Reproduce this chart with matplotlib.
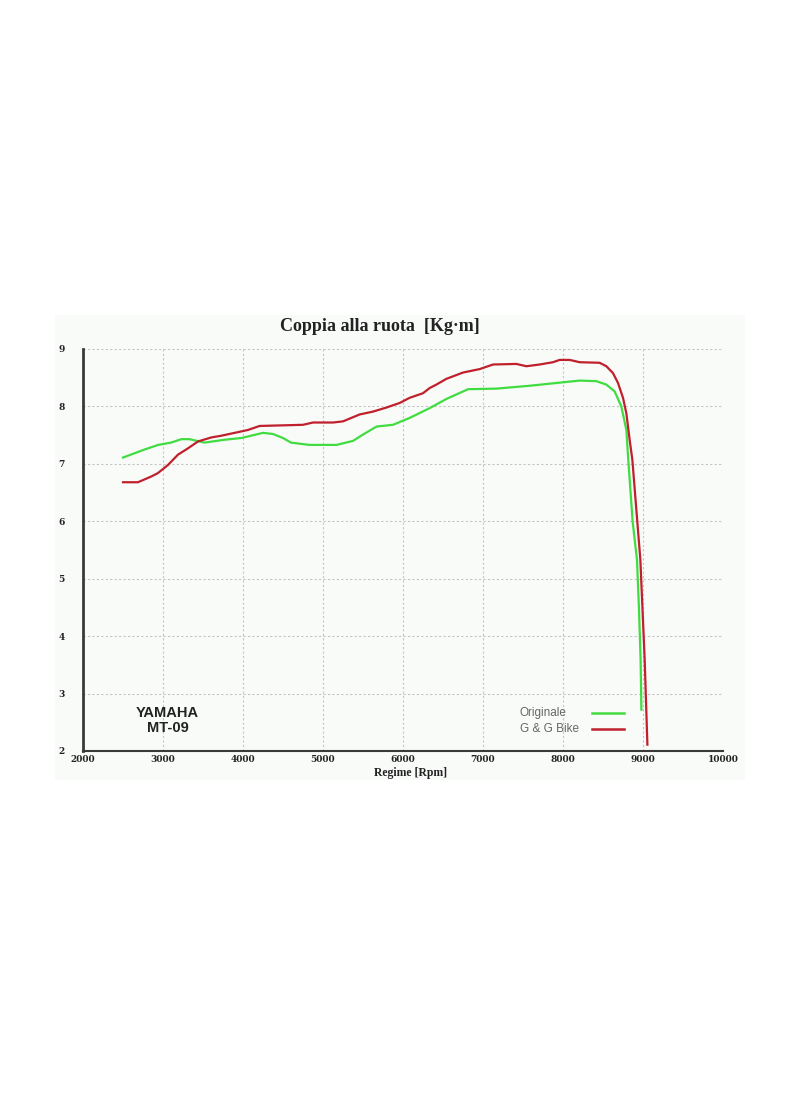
import matplotlib
matplotlib.use("Agg")
import matplotlib.pyplot as plt
from matplotlib.lines import Line2D

# ---- data ----
title = "Coppia alla ruota  [Kg·m]"
xlabel = "Regime [Rpm]"
series_names = ["Originale", "G & G Bike"]
x_ticks = [2000, 3000, 4000, 5000, 6000, 7000, 8000, 9000, 10000]
y_ticks = [2, 3, 4, 5, 6, 7, 8, 9]

rpm_orig = [2500, 2770, 2940, 3100, 3230, 3330, 3520, 3770, 3980, 4250, 4375, 4500,
            4600, 4830, 5170, 5375, 5500, 5670, 5875, 6083, 6333, 6542, 6813, 7167,
            7583, 7792, 8000, 8208, 8417, 8542, 8646, 8729, 8792, 8816, 8870, 8925,
            8950, 8970, 8980]
torque_orig = [7.11, 7.25, 7.33, 7.37, 7.43, 7.43, 7.37, 7.42, 7.45, 7.54, 7.52, 7.45,
               7.37, 7.33, 7.33, 7.40, 7.51, 7.65, 7.68, 7.80, 7.97, 8.13, 8.30, 8.31,
               8.36, 8.39, 8.42, 8.45, 8.44, 8.38, 8.26, 8.00, 7.59, 7.07, 6.00, 5.33,
               4.46, 3.59, 2.72]

rpm_gg = [2500, 2687, 2854, 2937, 3062, 3187, 3312, 3437, 3604, 3729, 3896, 4062,
          4208, 4750, 4875, 5125, 5250, 5458, 5625, 5792, 5958, 6083, 6250, 6333,
          6417, 6542, 6750, 6958, 7125, 7417, 7542, 7708, 7875, 7958, 8083, 8208,
          8458, 8542, 8625, 8687, 8750, 8792, 8833, 8867, 8967, 9021, 9055]
torque_gg = [6.68, 6.68, 6.78, 6.84, 6.98, 7.16, 7.27, 7.39, 7.46, 7.49, 7.54, 7.59,
             7.66, 7.68, 7.72, 7.72, 7.74, 7.86, 7.91, 7.98, 8.06, 8.15, 8.23, 8.32,
             8.38, 8.48, 8.59, 8.65, 8.73, 8.74, 8.70, 8.73, 8.77, 8.81, 8.81, 8.77,
             8.76, 8.70, 8.58, 8.41, 8.15, 7.88, 7.42, 7.07, 5.33, 3.59, 2.11]

colors = ["#40dc40", "#c0202c"]

# ---- figure ----
W, H = 800, 1096
fig = plt.figure(figsize=(W / 100, H / 100), dpi=100, facecolor="white")

# faint panel behind everything
bg = fig.add_axes([55 / W, 1 - 780 / H, 690 / W, 465 / H], zorder=-5)
bg.set_facecolor("#f9fbf9")
bg.set_xticks([])
bg.set_yticks([])
for s in bg.spines.values():
    s.set_visible(False)

ax = fig.add_axes([83 / W, 1 - 751 / H, 640 / W, 402 / H], zorder=1)
ax.set_facecolor("none")

ax.plot(rpm_orig, torque_orig, color=colors[0], lw=1.6, label=series_names[0])
ax.plot(rpm_gg, torque_gg, color=colors[1], lw=1.6, label=series_names[1])

ax.set_xlim(2000, 10000)
ax.set_ylim(2, 9)
ax.set_xticks(x_ticks)
ax.set_yticks(y_ticks)
ax.tick_params(axis="x", length=0, pad=3)
ax.tick_params(axis="y", length=0, pad=13)
for lab in ax.get_xticklabels() + ax.get_yticklabels():
    lab.set_fontfamily("DejaVu Serif")
    lab.set_fontweight("bold")
    lab.set_fontsize(6.5)
    lab.set_color("#222222")

ax.grid(True, color="#c4c4c4", linestyle=(0, (2, 2)), linewidth=0.8)
ax.set_axisbelow(True)
for s in ["top", "right"]:
    ax.spines[s].set_visible(False)
ax.spines["left"].set_color("#3a3a3a")
ax.spines["left"].set_linewidth(2)
ax.spines["bottom"].set_color("#3a3a3a")
ax.spines["bottom"].set_linewidth(1.5)

ax.set_xlabel(xlabel, fontfamily="Liberation Serif", fontweight="bold",
              fontsize=8.5, color="#222222")
ax.xaxis.set_label_coords((411 - 83) / 640, -(773 - 751) / 402)
ax.xaxis.label.set_va("center")

fig.text(380 / W, 1 - 327 / H, title, ha="center", va="center",
         fontfamily="Liberation Serif", fontweight="bold", fontsize=13, color="#222222")

ax.text(0.132, 0.095, "YAMAHA", transform=ax.transAxes, ha="center", va="center",
        fontfamily="Liberation Sans", fontweight="bold", fontsize=10.5, color="#222222")
ax.text(0.132, 0.056, "MT-09", transform=ax.transAxes, ha="center", va="center",
        fontfamily="Liberation Sans", fontweight="bold", fontsize=10.5, color="#222222")

# legend: label on the left, line sample on the right
leg_y = [(751 - 713) / 402, (751 - 729) / 402]
for name, col, yy in zip(series_names, colors, leg_y):
    ax.text((520 - 83) / 640, yy, name, transform=ax.transAxes, ha="left", va="center",
            fontfamily="Liberation Sans", fontsize=8.5, color="#666666")
    ax.add_line(Line2D([(592 - 83) / 640, (624 - 83) / 640], [yy, yy],
                       transform=ax.transAxes, color=col, lw=1.8))

fig.savefig("out.png", dpi=100, facecolor="white")
